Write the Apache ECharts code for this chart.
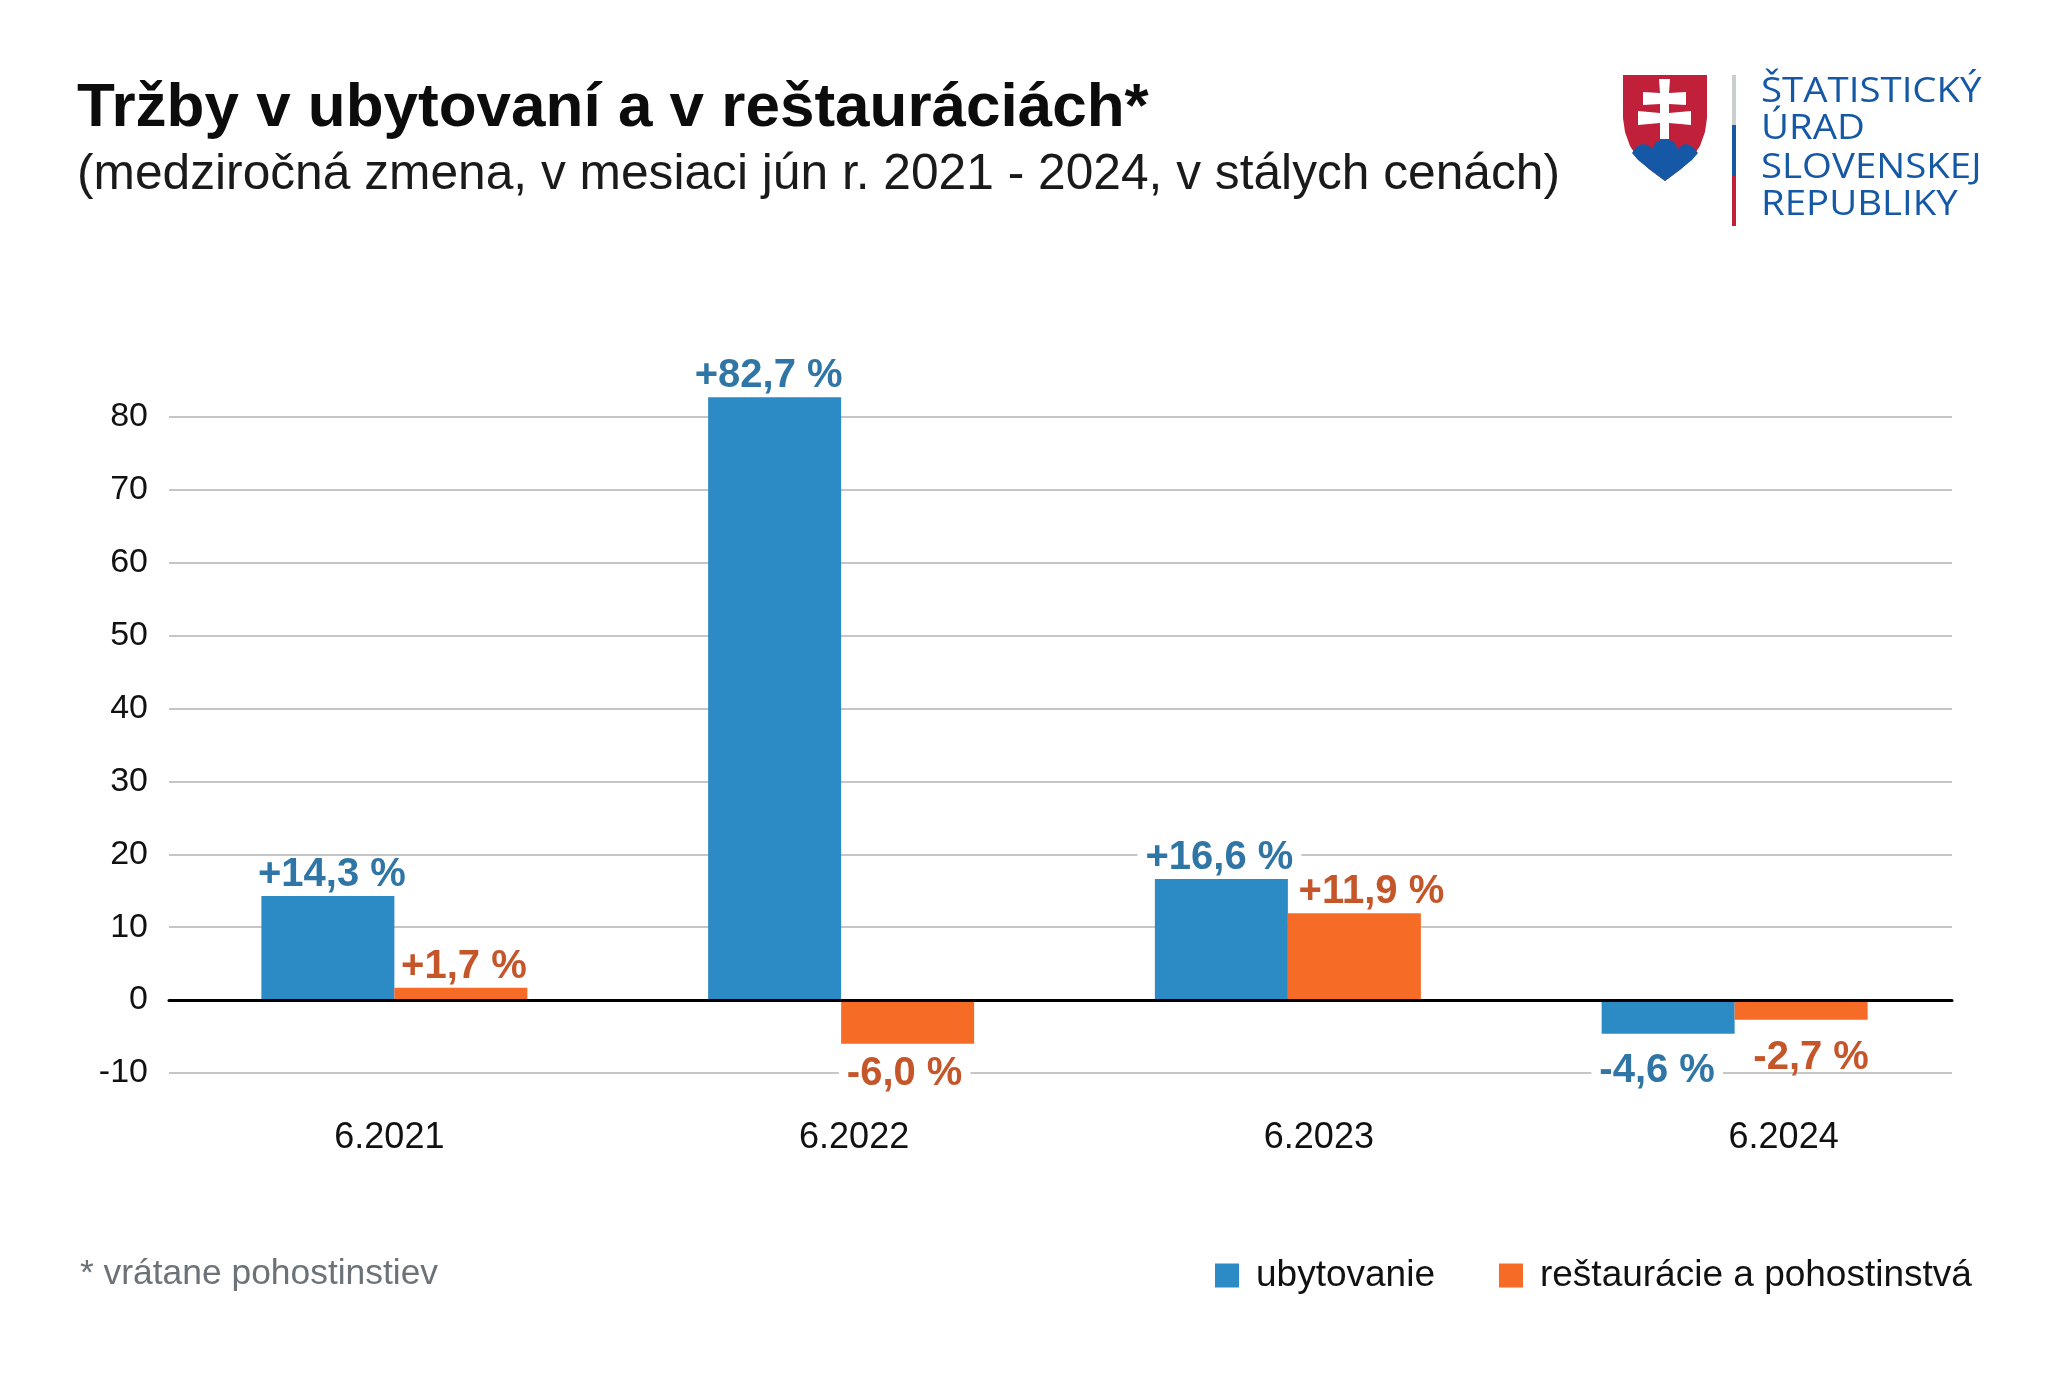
<!DOCTYPE html>
<html><head><meta charset="utf-8">
<style>html,body{margin:0;background:#fff}#c{width:2048px;height:1375px}</style>
<script src="https://cdn.jsdelivr.net/npm/echarts@6/dist/echarts.min.js"></script>
</head><body><div id="c"></div>
<script>
const categories = ['6.2021','6.2022','6.2023','6.2024'];
const ubytovanie = [14.3, 82.7, 16.6, -4.6];
const restauracie = [1.7, -6.0, 11.9, -2.7];
const seriesNames = ['ubytovanie','reštaurácie a pohostinstvá'];
const titleText = 'Tržby v ubytovaní a v reštauráciách*';
const subtitleText = '(medziročná zmena, v mesiaci jún r. 2021 - 2024, v stálych cenách)';
const noteText = '* vrátane pohostinstiev';
const logoLines = ['ŠTATISTICKÝ','ÚRAD','SLOVENSKEJ','REPUBLIKY'];

// label nudges in px, separate from the values: [dx, dy]
const nudgeA = [[4,0],[-6,0],[-2,0],[-11,7]];
const nudgeB = [[3,0],[-3,0],[17,0],[10,8]];
const bgA = [false,false,true,true];
const bgB = [false,true,false,false];

const BLUE='#2c8bc4', ORANGE='#f66b26', BLUE_T='#2f76a6', ORANGE_T='#c4562a', LOGO='#1558a5', RED='#c02039';
const FONT='"Liberation Sans"';
const fmt = v => (v>0?'+':'') + v.toFixed(1).replace('.',',') + ' %';

function items(values, nudge, bg, col){
  return values.map((v,i)=>({value:v,label:{
    show:true,position:v>=0?'top':'bottom',distance:v>=0?1:10,offset:nudge[i],
    formatter:fmt(v),color:col,fontFamily:FONT,fontWeight:'bold',fontSize:40,
    backgroundColor:bg[i]?'#fff':'transparent',padding:[0,8,0,8]
  }}));
}
const yBase={type:'value',min:-10,max:80,interval:10};
const hiddenCat=g=>({type:'category',gridIndex:g,data:categories,axisLine:{show:false},axisTick:{show:false},axisLabel:{show:false}});

const chart=echarts.init(document.getElementById('c'),null,{renderer:'canvas'});
chart.setOption({
  animation:false,backgroundColor:'#fff',
  title:[
    {text:titleText,left:77,top:78,padding:0,textStyle:{fontFamily:FONT,fontWeight:'bold',fontSize:62,color:'#0c0c0c'}},
    {text:subtitleText,left:77,top:150,padding:0,textStyle:{fontFamily:FONT,fontWeight:'normal',fontSize:49.7,color:'#1a1a1a'}},
    {text:noteText,left:80,top:1257,padding:0,textStyle:{fontFamily:FONT,fontWeight:'normal',fontSize:35.4,color:'#6b7278'}}
  ],
  legend:{left:1215,top:1257,padding:0,itemWidth:24,itemHeight:24,itemGap:64,icon:'rect',
    textStyle:{fontFamily:FONT,fontSize:37,color:'#111',padding:[0,0,0,12]},data:seriesNames},
  grid:[
    {left:171,right:90,top:417,bottom:302},
    {left:169,right:96,top:417,bottom:302},
    {left:157,right:32,top:417,bottom:302}
  ],
  xAxis:[
    hiddenCat(0),
    Object.assign(hiddenCat(1),{z:5,axisLine:{show:true,onZero:true,lineStyle:{color:'#000',width:3}}}),
    Object.assign(hiddenCat(2),{position:'bottom',axisLine:{show:false,onZero:false},axisLabel:{show:true,margin:47,color:'#111',fontFamily:FONT,fontSize:36}})
  ],
  yAxis:[
    Object.assign({},yBase,{gridIndex:0,show:false}),
    Object.assign({},yBase,{gridIndex:1,axisLine:{show:false},axisTick:{show:false},
      axisLabel:{margin:21,padding:[4,0,0,0],color:'#111',fontFamily:FONT,fontSize:34},
      splitLine:{show:true,lineStyle:{color:'#c6c6c6',width:2}}}),
    Object.assign({},yBase,{gridIndex:2,show:false})
  ],
  series:[
    {name:seriesNames[0],type:'bar',clip:false,xAxisIndex:0,yAxisIndex:0,barWidth:133,barGap:0,itemStyle:{color:BLUE},data:items(ubytovanie,nudgeA,bgA,BLUE_T)},
    {name:seriesNames[1],type:'bar',clip:false,xAxisIndex:0,yAxisIndex:0,barWidth:133,barGap:0,itemStyle:{color:ORANGE},data:items(restauracie,nudgeB,bgB,ORANGE_T)}
  ],
  graphic:[
    {type:'polygon',shape:{points:[[1623,75],[1707,75],[1707,118],[1705,132],[1700,146],[1692,158],[1681,169],[1665,181],[1649,169],[1638,158],[1630,146],[1625,132],[1623,118]]},style:{fill:RED}},
    {type:'polygon',shape:{points:[[1632,153],[1636,147],[1642,144],[1648,145],[1652,149],[1656,142],[1665,138],[1674,142],[1678,149],[1682,145],[1687,144],[1693,147],[1698,153],[1692,160],[1681,169],[1665,181],[1649,169],[1638,160]]},style:{fill:LOGO}},
    {type:'polygon',shape:{points:[[1659,79],[1670,79],[1669,93],[1686,92],[1686,105],[1669,104],[1669,113],[1691,111],[1691,125],[1669,123],[1669,139],[1660,139],[1660,123],[1638,125],[1638,111],[1660,113],[1660,104],[1643,105],[1643,92],[1660,93]]},style:{fill:'#fff'}},
    {type:'rect',shape:{x:1732,y:75,width:4,height:50},style:{fill:'#c8cfcd'}},
    {type:'rect',shape:{x:1732,y:125,width:4,height:51},style:{fill:LOGO}},
    {type:'rect',shape:{x:1732,y:176,width:4,height:50},style:{fill:RED}},
    ...logoLines.map((t,i)=>({type:'text',x:1761,y:[109,146,185,222][i],scaleX:1.13,style:{text:t,fill:LOGO,font:'34px "Open Sans"',verticalAlign:'bottom'}}))
  ]
});
</script></body></html>
